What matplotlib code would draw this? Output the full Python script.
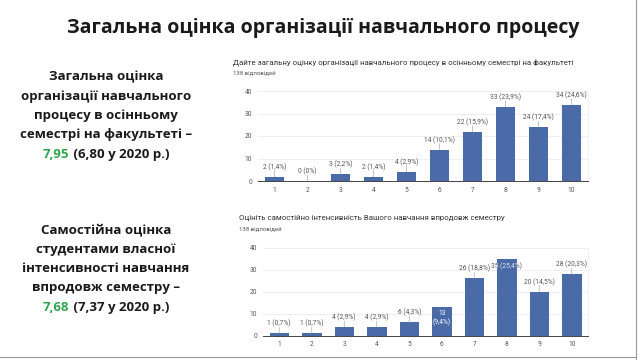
import matplotlib
matplotlib.use('Agg')
import matplotlib.pyplot as plt
from matplotlib.lines import Line2D

# data
scores = list(range(1, 11))
overall_counts = [2, 0, 3, 2, 4, 14, 22, 33, 24, 34]
overall_pct = ['1,4', '0', '2,2', '1,4', '2,9', '10,1', '15,9', '23,9', '17,4', '24,6']
intensity_counts = [1, 1, 4, 4, 6, 13, 26, 35, 20, 28]
intensity_pct = ['0,7', '0,7', '2,9', '2,9', '4,3', '9,4', '18,8', '25,4', '14,5', '20,3']
yticks = [0, 10, 20, 30, 40]

slide_title = 'Загальна оцінка організації навчального процесу'
overall_title = 'Дайте загальну оцінку організації навчального процесу в осінньому семестрі на факультеті'
intensity_title = 'Оцініть самостійно інтенсивність Вашого навчання впродовж семестру'
responses = '138 відповідей'

block1_lines = ['Загальна оцінка', 'організації навчального', 'процесу в осінньому',
                'семестрі на факультеті –']
block1_score = ('7,95', ' (6,80 у 2020 р.)')
block2_lines = ['Самостійна оцінка', 'студентами власної', 'інтенсивності навчання',
                'впродовж семестру –']
block2_score = ('7,68', ' (7,37 у 2020 р.)')

bar_blue = '#4a6ba7'
green = '#2ea44f'
ink = '#1a1a1a'
slide_font = ['Open Sans', 'DejaVu Sans']
chart_font = ['Roboto', 'DejaVu Sans']

W, H = 640, 360
fig = plt.figure(figsize=(6.4, 3.6), dpi=100)
fig.patch.set_facecolor('white')


def px(x, y):
    return x / W, 1 - y / H


fig.text(*px(323, 28), slide_title, ha='center', va='center', fontsize=14,
         fontweight='bold', color=ink, family=slide_font)


def text_block(lines, score, cx, y0, step=19.3, size=9.5):
    for i, line in enumerate(lines):
        fig.text(*px(cx, y0 + i * step), line, ha='center', va='center',
                 fontsize=size, fontweight='bold', color=ink, family=slide_font)
    # last line: green score followed by last year's value in black
    y = y0 + len(lines) * step
    renderer = fig.canvas.get_renderer()
    probe = fig.text(0, 0, score[0] + score[1], fontsize=size, fontweight='bold',
                     family=slide_font)
    total = probe.get_window_extent(renderer).width
    probe.remove()
    first = fig.text(*px(cx - total / 2, y), score[0], ha='left', va='center',
                     fontsize=size, fontweight='bold', color=green, family=slide_font)
    w1 = first.get_window_extent(renderer).width
    fig.text(*px(cx - total / 2 + w1, y), score[1], ha='left', va='center',
             fontsize=size, fontweight='bold', color=ink, family=slide_font)


text_block(block1_lines, block1_score, 106, 77)
text_block(block2_lines, block2_score, 106, 230)


def draw_chart(left, right, zero_y, top_y, counts, pct, title, title_xy, inside=None):
    inside = inside or {}
    l, b = px(left, zero_y)
    ax = fig.add_axes([l, b, (right - left) / W, (zero_y - top_y) / H])
    bars = ax.bar(scores, counts, width=0.6, color=bar_blue, zorder=2)
    ax.set_xlim(0.5, 10.5)
    ax.set_ylim(0, 40)
    ax.set_xticks(scores)
    ax.set_yticks(yticks)
    ax.yaxis.grid(True, color='#ececec', lw=0.6, zorder=0)
    for s in ['left', 'top']:
        ax.spines[s].set_visible(False)
    ax.spines['right'].set_color('#f0f0f0')
    ax.spines['right'].set_linewidth(0.6)
    ax.spines['bottom'].set_color('#444444')
    ax.spines['bottom'].set_linewidth(0.7)
    ax.tick_params(length=0, labelsize=4.8, colors='#555555', pad=4)
    for lab in ax.get_xticklabels() + ax.get_yticklabels():
        lab.set_family(chart_font)

    for i, (bar, n, p) in enumerate(zip(bars, counts, pct)):
        x = bar.get_x() + bar.get_width() / 2
        label = f'{n} ({p}%)'
        mode = inside.get(i)
        if mode == 'wrap':
            ax.annotate(f'{n}\n({p}%)', (x, n), xytext=(0, -2), textcoords='offset points',
                        ha='center', va='top', fontsize=4.8, color='white',
                        family=chart_font, linespacing=1.3, zorder=4)
        elif mode == 'overlap':
            # label sits across the bar top: grey outside the bar, light on it
            ax.annotate(label, (x, n), xytext=(0, -5.8), textcoords='offset points',
                        ha='center', va='center', fontsize=4.8, color='#555555',
                        family=chart_font, zorder=1)
            t = ax.annotate(label, (x, n), xytext=(0, -5.8), textcoords='offset points',
                            ha='center', va='center', fontsize=4.8, color='#dde3ee',
                            family=chart_font, zorder=4)
            t.set_clip_path(bar)
        else:
            ax.annotate('', (x, n), xytext=(0, 4.2), textcoords='offset points',
                        arrowprops=dict(arrowstyle='-', color='#aaaaaa', lw=0.5,
                                        shrinkA=0, shrinkB=0), zorder=3)
            ax.annotate(label, (x, n), xytext=(0, 6.8), textcoords='offset points',
                        ha='center', va='center', fontsize=4.8, color='#555555',
                        family=chart_font, zorder=3)

    fig.text(*px(*title_xy), title, ha='left', va='center', fontsize=5.7,
             color='#333333', family=chart_font)
    fig.text(*px(title_xy[0], title_xy[1] + 11), responses, ha='left', va='center',
             fontsize=4.3, color='#555555', family=chart_font)
    return ax


draw_chart(258, 588, 181, 91, overall_counts, overall_pct, overall_title, (233, 62))
draw_chart(263, 588, 335.5, 247.5, intensity_counts, intensity_pct, intensity_title,
           (239, 218), inside={5: 'wrap', 7: 'overlap'})

# frame edge of the slide screenshot
fig.add_artist(Line2D([636 / W, 636 / W], [0, 1], color='#9a9a9a', lw=0.8))
fig.add_artist(Line2D([0, 636 / W], [1 - 356.5 / H, 1 - 356.5 / H], color='#9a9a9a', lw=0.8))

fig.savefig('out.png', dpi=100)
